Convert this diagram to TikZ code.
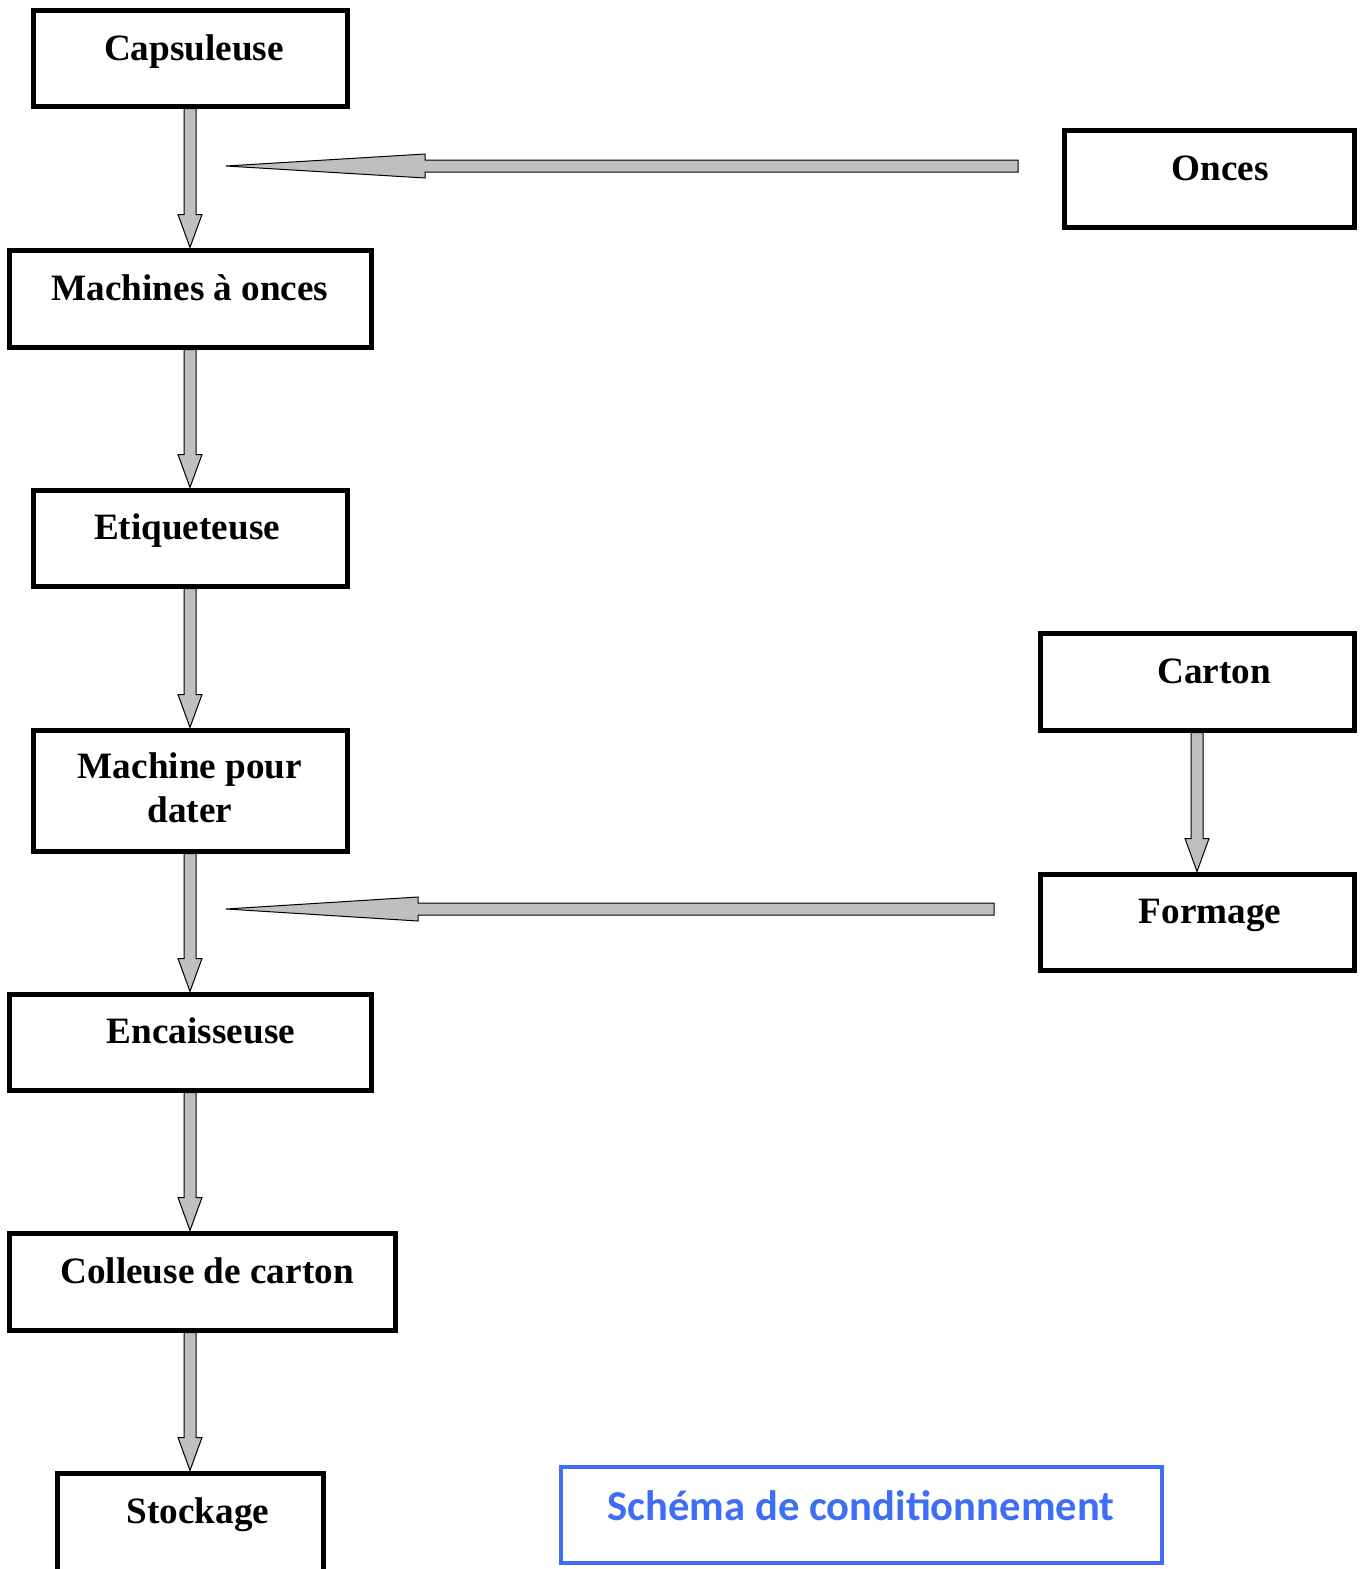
\documentclass[tikz,border=0pt]{standalone}
\usepackage{fontspec}
\setmainfont{Liberation Serif}
\newfontfamily\blufont{Carlito}
\usetikzlibrary{calc}
\definecolor{schblue}{RGB}{61,110,245}
\tikzset{
  box/.style={draw=black, line width=2.5pt, inner sep=0pt},
  bluebox/.style={draw=schblue, line width=2.2pt, inner sep=0pt},
  lbl/.style={anchor=base, inner sep=0pt, font=\fontsize{18.6}{22.3}\selectfont\bfseries},
  barrow/.style={fill=gray!50, draw=black, line width=0.5pt},
}
% box from corner coordinates (px)
\newcommand\boxnode[6][box]{\node[#1, minimum width={(#5-#3)*0.5pt}, minimum height={(#6-#4)*0.5pt}] (#2) at ({(#3+#5)/2},{(#4+#6)/2}) {};}
% vertical block arrow
\newcommand\varrow[2]{\path[barrow] let \p1=#1, \p2=#2 in
  (\x1-3pt,\y1) -- (\x1-3pt,\y2+16.5pt) -- (\x1-6pt,\y2+16.5pt) -- (\x1,\y2)
  -- (\x1+6pt,\y2+16.5pt) -- (\x1+3pt,\y2+16.5pt) -- (\x1+3pt,\y1) -- cycle;}
% horizontal block arrow, tail on the right, tip on the left; #3 head length (pt)
\newcommand\harrow[3]{\path[barrow] let \p1=#1, \p2=#2 in
  (\x1,\y1+3pt) -- (\x2+#3,\y1+3pt) -- (\x2+#3,\y1+6pt) -- (\x2,\y2)
  -- (\x2+#3,\y1-6pt) -- (\x2+#3,\y1-3pt) -- (\x1,\y1-3pt) -- cycle;}
\begin{document}
\begin{tikzpicture}[x=0.5pt, y=-0.5pt]
\useasboundingbox (0,0) rectangle (1369,1569);
\clip (0,0) rectangle (1369,1569);
\fill[white] (0,0) rectangle (1369,1569);

% boxes
\boxnode{cap}{33}{10}{347}{106}
\boxnode{onc}{1064}{130}{1354}{227}
\boxnode{mao}{9}{250}{371}{347}
\boxnode{eti}{33}{490}{347}{586}
\boxnode{dat}{33}{730}{347}{851}
\boxnode{car}{1040}{633}{1354}{730}
\boxnode{frm}{1040}{874}{1354}{970}
\boxnode{enc}{9}{994}{371}{1090}
\boxnode{col}{9}{1233}{395}{1330}
\boxnode{sto}{57}{1473}{323}{1600}
\boxnode[bluebox]{sch}{561}{1467}{1162}{1563}

% texts
\node[lbl] (tcap) at (194,60) {Capsuleuse};
\node[lbl] (tonc) at (1220,180) {Onces};
\node[lbl] (tmao) at (190,300) {Machines à onces};
\node[lbl] (teti) at (187,539) {Etiqueteuse};
\node[lbl] (tcar) at (1214,683) {Carton};
\node[lbl] (tdat1) at (190,778) {Machine pour};
\node[lbl] (tdat2) at (190,822) {dater};
\node[lbl] (tfrm) at (1210,923) {Formage};
\node[lbl] (tenc) at (201,1043) {Encaisseuse};
\node[lbl] (tcol) at (207,1283) {Colleuse de carton};
\node[lbl] (tsto) at (198,1523) {Stockage};
\node[anchor=base, inner sep=0pt, font=\blufont\bfseries\fontsize{21.3}{25}\selectfont, text=schblue] (tsch) at (861,1520) {Schéma de conditionnement};

% vertical arrows
\varrow{(cap.south)}{(mao.north)}
\varrow{(mao.south)}{(eti.north)}
\varrow{(eti.south)}{(dat.north)}
\varrow{(dat.south)}{(enc.north)}
\varrow{(enc.south)}{(col.north -| enc.south)}
\varrow{(col.south -| sto.north)}{(sto.north)}
\varrow{(car.south)}{(frm.north)}

% horizontal arrows
\coordinate (t1) at (1018,166);
\coordinate (h1) at (226,166);
\coordinate (t2) at (994,909);
\coordinate (h2) at (226,909);
\harrow{(t1)}{(h1)}{99.5pt}
\harrow{(t2)}{(h2)}{96pt}
\end{tikzpicture}
\end{document}
